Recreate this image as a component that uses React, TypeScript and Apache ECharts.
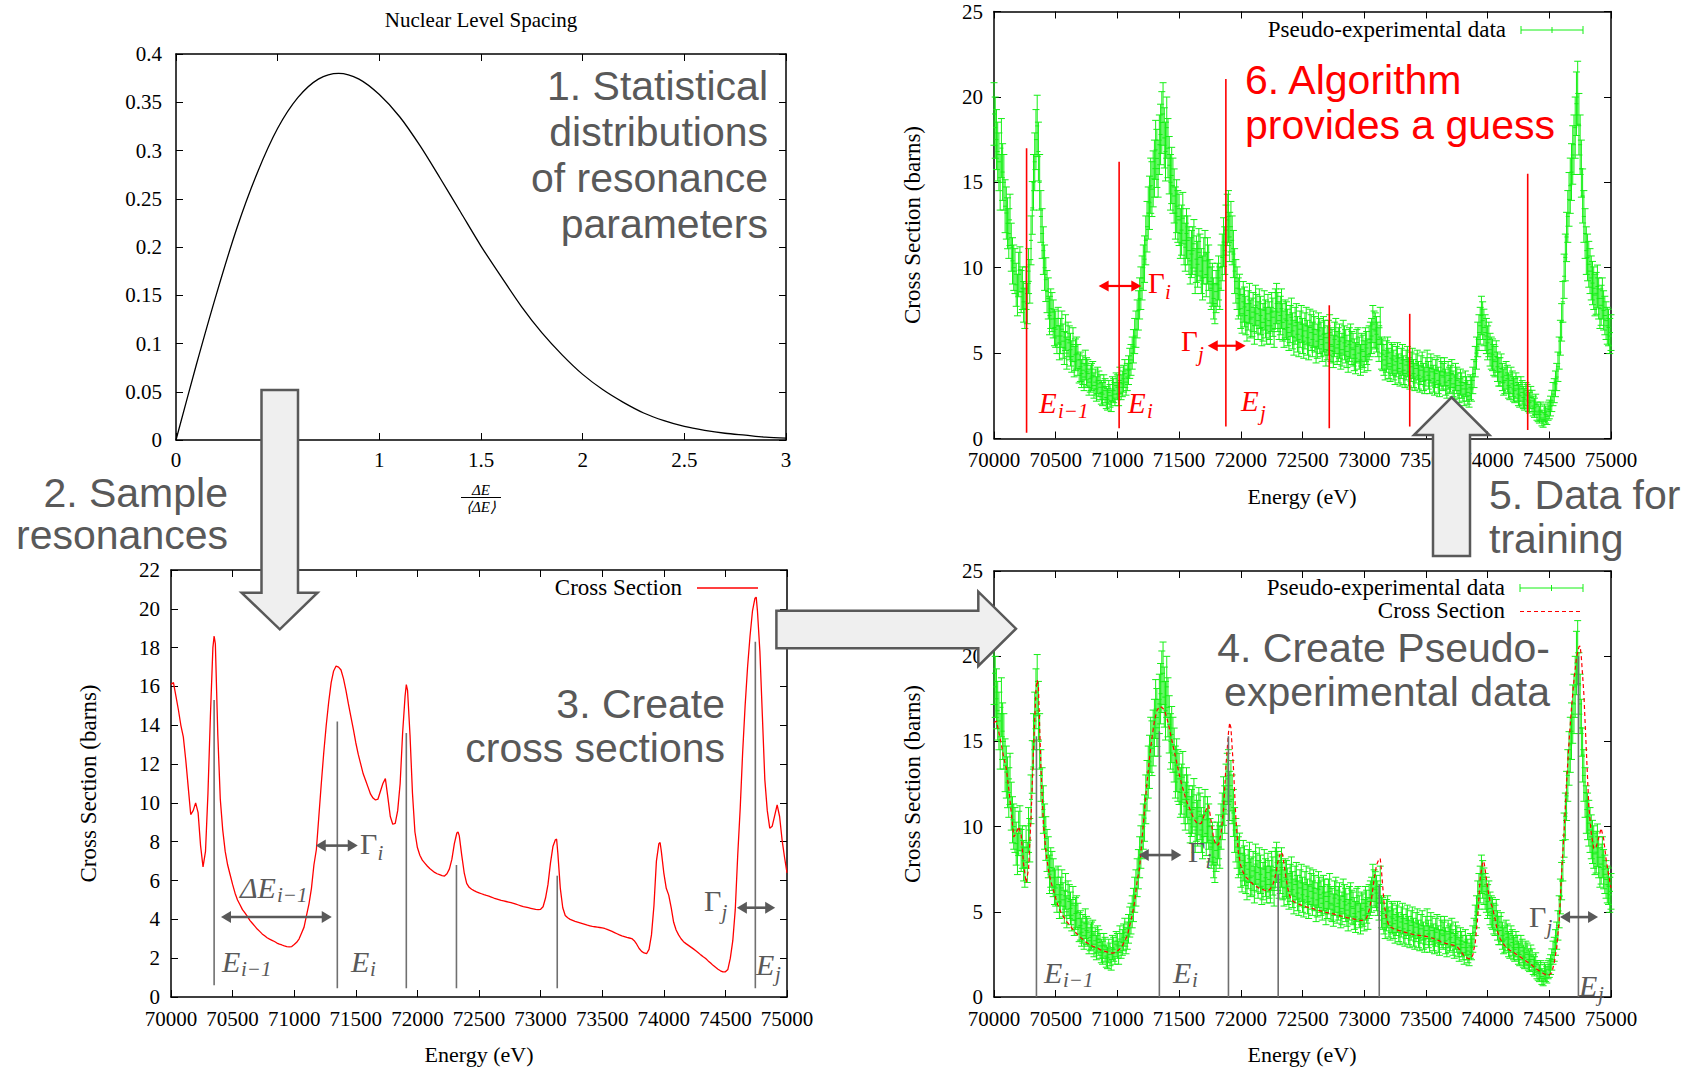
import React, { useEffect, useRef } from "react";
import * as echarts from "echarts";

// ---------------- DATA ----------------
// Panel 1: Nuclear level spacing distribution
const WIGNER_X = [0, 0.1, 0.2, 0.3, 0.4, 0.5, 0.6, 0.7, 0.8, 0.9, 1.0, 1.1, 1.2, 1.3, 1.4, 1.5, 1.6, 1.7, 1.8, 1.9, 2.0, 2.1, 2.2, 2.3, 2.4, 2.5, 2.6, 2.7, 2.8, 2.9, 3.0];
const WIGNER_Y = [0, 0.078, 0.152, 0.22, 0.277, 0.323, 0.355, 0.374, 0.38, 0.374, 0.358, 0.335, 0.305, 0.271, 0.236, 0.201, 0.169, 0.138, 0.111, 0.088, 0.068, 0.052, 0.039, 0.028, 0.02, 0.014, 0.01, 0.007, 0.005, 0.003, 0.002];

// Axis ranges [min, max, interval]
const ENERGY_RANGE = [70000, 75000, 500];
const SPACING_RANGE = [0, 3, 0.5];
const DENSITY_RANGE = [0, 0.4, 0.05];
const XS_RANGE_SMALL = [0, 22, 2];
const XS_RANGE_LARGE = [0, 25, 5];

// Cross section curve [E (eV), sigma (barns)]
const CROSS_SECTION: [number, number][] = [
  [70000, 16.1], [70020, 16.2], [70040, 15.5], [70060, 14.8], [70080, 14.0], [70100, 13.4], [70120, 12.2], [70140, 10.8],
  [70160, 9.4], [70180, 9.6], [70200, 10.0], [70220, 9.5], [70240, 7.8], [70260, 6.7], [70280, 7.5], [70300, 10.5],
  [70320, 14.5], [70340, 18.0], [70350, 18.6], [70360, 18.2], [70380, 13.5], [70400, 10.2], [70420, 8.6], [70440, 7.5],
  [70460, 6.8], [70480, 6.3], [70500, 5.8], [70520, 5.35], [70540, 5.0], [70560, 4.75], [70580, 4.5], [70600, 4.33],
  [70620, 4.15], [70640, 3.95], [70660, 3.8], [70680, 3.65], [70700, 3.5], [70720, 3.38], [70740, 3.25], [70760, 3.15],
  [70780, 3.05], [70800, 2.98], [70820, 2.92], [70840, 2.86], [70860, 2.78], [70880, 2.72], [70900, 2.68], [70920, 2.63],
  [70940, 2.6], [70960, 2.58], [70980, 2.6], [71000, 2.7], [71020, 2.82], [71040, 3.0], [71060, 3.3], [71080, 3.6],
  [71100, 4.2], [71120, 4.8], [71140, 5.6], [71160, 6.8], [71180, 7.6], [71200, 9.3], [71220, 11.0], [71240, 12.6],
  [71260, 14.0], [71280, 15.2], [71300, 16.2], [71320, 16.8], [71340, 17.05], [71360, 17.0], [71380, 16.85], [71400, 16.4],
  [71420, 15.8], [71440, 15.1], [71460, 14.45], [71480, 13.8], [71500, 13.1], [71520, 12.5], [71540, 12.0], [71560, 11.5],
  [71580, 11.15], [71600, 10.8], [71620, 10.45], [71640, 10.25], [71660, 10.15], [71680, 10.2], [71700, 10.6], [71720, 11.0],
  [71740, 11.25], [71760, 10.3], [71780, 9.3], [71800, 8.9], [71820, 8.95], [71840, 9.6], [71860, 11.0], [71880, 13.6],
  [71900, 15.5], [71910, 16.1], [71920, 15.8], [71940, 13.5], [71960, 10.5], [71980, 8.5], [72000, 7.7], [72020, 7.3],
  [72040, 7.05], [72060, 6.9], [72080, 6.75], [72100, 6.62], [72120, 6.52], [72140, 6.42], [72160, 6.35], [72180, 6.3],
  [72200, 6.25], [72220, 6.23], [72240, 6.35], [72260, 6.6], [72280, 7.1], [72300, 7.9], [72320, 8.45], [72330, 8.5],
  [72340, 8.3], [72360, 7.3], [72380, 6.4], [72400, 5.85], [72420, 5.65], [72440, 5.55], [72460, 5.48], [72480, 5.42],
  [72500, 5.37], [72520, 5.32], [72540, 5.27], [72560, 5.23], [72580, 5.2], [72600, 5.15], [72620, 5.1], [72640, 5.06],
  [72660, 5.02], [72680, 4.98], [72700, 4.95], [72720, 4.92], [72740, 4.89], [72760, 4.86], [72780, 4.82], [72800, 4.78],
  [72820, 4.74], [72840, 4.7], [72860, 4.66], [72880, 4.63], [72900, 4.6], [72920, 4.57], [72940, 4.54], [72960, 4.51],
  [72980, 4.5], [73000, 4.52], [73020, 4.65], [73040, 5.1], [73060, 5.8], [73080, 6.9], [73100, 7.75], [73120, 8.1],
  [73130, 8.13], [73140, 7.4], [73160, 5.6], [73180, 4.6], [73200, 4.2], [73220, 4.08], [73240, 4.0], [73260, 3.95],
  [73280, 3.9], [73300, 3.86], [73320, 3.82], [73340, 3.78], [73360, 3.74], [73380, 3.7], [73400, 3.67], [73420, 3.64],
  [73440, 3.62], [73460, 3.6], [73480, 3.58], [73500, 3.56], [73520, 3.53], [73540, 3.48], [73560, 3.43], [73580, 3.38],
  [73600, 3.32], [73620, 3.26], [73640, 3.2], [73660, 3.15], [73680, 3.11], [73700, 3.07], [73720, 3.04], [73740, 3.01],
  [73760, 2.9], [73780, 2.72], [73800, 2.5], [73820, 2.35], [73840, 2.27], [73860, 2.23], [73880, 2.45], [73900, 3.2],
  [73920, 4.7], [73940, 7.0], [73960, 7.9], [73970, 7.96], [73980, 7.5], [74000, 6.4], [74020, 5.6], [74040, 5.25],
  [74060, 4.6], [74080, 3.85], [74100, 3.45], [74120, 3.2], [74140, 3.0], [74160, 2.85], [74180, 2.75], [74200, 2.66],
  [74220, 2.57], [74240, 2.48], [74260, 2.38], [74280, 2.28], [74300, 2.17], [74320, 2.07], [74340, 1.98], [74360, 1.86],
  [74380, 1.75], [74400, 1.63], [74420, 1.53], [74440, 1.43], [74460, 1.35], [74480, 1.29], [74500, 1.3], [74520, 1.42],
  [74540, 2.0], [74560, 2.9], [74580, 4.5], [74600, 7.3], [74620, 9.7], [74640, 12.6], [74660, 15.0], [74680, 17.0],
  [74700, 18.6], [74720, 19.9], [74740, 20.55], [74750, 20.6], [74760, 19.9], [74780, 17.8], [74800, 14.5], [74820, 11.2],
  [74840, 9.6], [74860, 8.7], [74880, 8.8], [74900, 9.35], [74920, 9.9], [74940, 9.3], [74960, 8.1], [74980, 7.2],
  [75000, 6.4],
];

// Pseudo-experimental data [E (eV), sigma (barns)] - even bins
const PSEUDO_DATA_A: [number, number][] = [
  [70000, 19.0], [70020, 17.5], [70040, 16.2], [70060, 17.0], [70080, 15.0], [70100, 13.2], [70120, 12.0], [70140, 11.2],
  [70160, 10.0], [70180, 9.0], [70200, 9.6], [70220, 8.6], [70240, 8.0], [70260, 8.8], [70280, 9.8], [70300, 11.6],
  [70320, 15.0], [70340, 17.5], [70360, 16.8], [70380, 13.0], [70400, 11.0], [70420, 9.3], [70440, 8.2], [70460, 7.6],
  [70480, 7.0], [70500, 6.4], [70520, 6.6], [70540, 6.0], [70560, 5.7], [70580, 6.2], [70600, 5.8], [70620, 5.2],
  [70640, 5.5], [70660, 4.9], [70680, 4.6], [70700, 4.2], [70720, 4.0], [70740, 4.3], [70760, 3.8], [70780, 3.5],
  [70800, 3.7], [70820, 3.3], [70840, 3.4], [70860, 3.0], [70880, 2.6], [70900, 2.8], [70920, 2.3], [70940, 2.5],
  [70960, 2.9], [70980, 2.6], [71000, 3.0], [71020, 3.4], [71040, 3.2], [71060, 3.8], [71080, 3.6], [71100, 4.4],
  [71120, 5.0], [71140, 6.0], [71160, 7.0], [71180, 8.2], [71200, 9.4], [71220, 10.5], [71240, 12.4], [71260, 13.8],
  [71280, 14.6], [71300, 15.8], [71320, 16.4], [71340, 17.2], [71360, 18.5], [71380, 17.6], [71400, 18.2], [71420, 16.0],
  [71440, 15.4], [71460, 14.2], [71480, 13.6], [71500, 12.8], [71520, 12.2], [71540, 11.6], [71560, 12.0], [71580, 11.0],
  [71600, 10.8], [71620, 11.4], [71640, 10.5], [71660, 10.9], [71680, 9.8], [71700, 10.4], [71720, 9.6], [71740, 10.0],
  [71760, 8.8], [71780, 8.2], [71800, 8.6], [71820, 9.4], [71840, 10.0], [71860, 11.5], [71880, 12.2], [71900, 13.0],
  [71920, 12.4], [71940, 10.8], [71960, 9.2], [71980, 8.2], [72000, 7.6], [72020, 8.0], [72040, 7.2], [72060, 7.5],
  [72080, 7.0], [72100, 7.4], [72120, 7.8], [72140, 6.9], [72160, 7.2], [72180, 6.8], [72200, 7.0], [72220, 7.3],
  [72240, 6.6], [72260, 7.1], [72280, 7.6], [72300, 7.4], [72320, 7.2], [72340, 6.8], [72360, 7.0], [72380, 6.5],
  [72400, 6.7], [72420, 6.3], [72440, 6.6], [72460, 6.1], [72480, 6.4], [72500, 6.0], [72520, 6.3], [72540, 5.9],
  [72560, 6.5], [72580, 5.8], [72600, 6.1], [72620, 5.7], [72640, 6.0], [72660, 5.5], [72680, 5.9], [72700, 5.6],
  [72720, 6.2], [72740, 5.4], [72760, 5.8], [72780, 5.3], [72800, 5.7], [72820, 5.2], [72840, 5.6], [72860, 5.1],
  [72880, 5.5], [72900, 5.3], [72920, 4.9], [72940, 5.4], [72960, 5.0], [72980, 5.2], [73000, 4.8], [73020, 5.3],
  [73040, 5.6], [73060, 6.0], [73080, 6.4], [73100, 6.1], [73120, 5.5], [73140, 5.0], [73160, 4.6], [73180, 4.8],
  [73200, 4.4], [73220, 4.7], [73240, 4.3], [73260, 4.5], [73280, 4.1], [73300, 4.4], [73320, 4.0], [73340, 4.3],
  [73360, 3.9], [73380, 4.2], [73400, 3.8], [73420, 4.1], [73440, 3.7], [73460, 4.0], [73480, 3.6], [73500, 3.9],
  [73520, 3.7], [73540, 4.1], [73560, 3.5], [73580, 3.8], [73600, 3.4], [73620, 3.9], [73640, 3.6], [73660, 3.3],
  [73680, 3.7], [73700, 3.5], [73720, 3.2], [73740, 3.6], [73760, 3.1], [73780, 3.3], [73800, 2.9], [73820, 3.2],
  [73840, 2.7], [73860, 3.0], [73880, 3.4], [73900, 4.5], [73920, 5.8], [73940, 6.6], [73960, 6.9], [73980, 6.2],
  [74000, 5.6], [74020, 5.2], [74040, 4.9], [74060, 4.5], [74080, 4.2], [74100, 3.9], [74120, 3.6], [74140, 3.4],
  [74160, 3.5], [74180, 3.0], [74200, 3.2], [74220, 2.8], [74240, 2.9], [74260, 2.5], [74280, 2.7], [74300, 2.3],
  [74320, 2.5], [74340, 2.1], [74360, 2.2], [74380, 1.8], [74400, 1.6], [74420, 1.4], [74440, 1.2], [74460, 1.5],
  [74480, 1.3], [74500, 1.7], [74520, 2.2], [74540, 2.8], [74560, 3.6], [74580, 5.0], [74600, 6.8], [74620, 9.5],
  [74640, 11.8], [74660, 14.0], [74680, 15.6], [74700, 17.2], [74720, 19.6], [74740, 18.4], [74760, 15.8], [74780, 13.0],
  [74800, 11.0], [74820, 10.2], [74840, 9.4], [74860, 8.8], [74880, 8.5], [74900, 8.2], [74920, 7.8], [74940, 7.5],
  [74960, 6.9], [74980, 6.5], [75000, 6.2],
];
// Pseudo-experimental data - odd bins
const PSEUDO_DATA_B: [number, number][] = [
  [70010, 18.2], [70030, 16.8], [70050, 15.0], [70070, 15.6], [70090, 13.6], [70110, 12.6], [70130, 12.8], [70150, 10.4],
  [70170, 9.8], [70190, 8.4], [70210, 9.9], [70230, 8.8], [70250, 7.6], [70270, 7.9], [70290, 9.2], [70310, 13.5],
  [70330, 16.2], [70350, 18.3], [70370, 15.0], [70390, 12.0], [70410, 10.0], [70430, 8.6], [70450, 7.2], [70470, 7.4],
  [70490, 6.5], [70510, 6.0], [70530, 5.6], [70550, 6.4], [70570, 5.3], [70590, 5.0], [70610, 5.6], [70630, 4.8],
  [70650, 4.5], [70670, 5.0], [70690, 4.1], [70710, 3.8], [70730, 3.6], [70750, 3.9], [70770, 3.3], [70790, 3.6],
  [70810, 3.1], [70830, 2.9], [70850, 3.2], [70870, 2.7], [70890, 3.0], [70910, 2.4], [70930, 2.7], [70950, 2.2],
  [70970, 2.8], [70990, 3.1], [71010, 2.6], [71030, 3.0], [71050, 3.5], [71070, 3.3], [71090, 4.0], [71110, 4.6],
  [71130, 5.4], [71150, 6.4], [71170, 7.5], [71190, 8.8], [71210, 10.0], [71230, 11.6], [71250, 13.2], [71270, 14.8],
  [71290, 15.2], [71310, 16.9], [71330, 15.8], [71350, 17.8], [71370, 19.0], [71390, 16.8], [71410, 17.0], [71430, 15.0],
  [71450, 14.8], [71470, 13.2], [71490, 13.0], [71510, 12.0], [71530, 12.9], [71550, 11.2], [71570, 11.6], [71590, 10.4],
  [71610, 11.0], [71630, 9.8], [71650, 10.2], [71670, 10.6], [71690, 9.4], [71710, 10.8], [71730, 10.4], [71750, 9.2],
  [71770, 9.0], [71790, 7.9], [71810, 9.0], [71830, 8.8], [71850, 10.6], [71870, 11.0], [71890, 12.8], [71910, 11.8],
  [71930, 11.6], [71950, 9.8], [71970, 8.8], [71990, 8.4], [72010, 7.3], [72030, 7.7], [72050, 6.8], [72070, 7.9],
  [72090, 7.1], [72110, 6.6], [72130, 7.3], [72150, 7.6], [72170, 6.5], [72190, 7.5], [72210, 6.6], [72230, 6.9],
  [72250, 7.4], [72270, 6.4], [72290, 7.9], [72310, 6.9], [72330, 7.6], [72350, 6.4], [72370, 6.9], [72390, 6.2],
  [72410, 7.1], [72430, 5.9], [72450, 6.8], [72470, 5.8], [72490, 6.7], [72510, 5.7], [72530, 6.6], [72550, 5.6],
  [72570, 6.2], [72590, 6.4], [72610, 5.4], [72630, 6.3], [72650, 5.8], [72670, 6.1], [72690, 5.2], [72710, 5.9],
  [72730, 5.5], [72750, 5.1], [72770, 6.0], [72790, 5.5], [72810, 5.0], [72830, 5.9], [72850, 5.4], [72870, 4.8],
  [72890, 5.7], [72910, 5.2], [72930, 4.7], [72950, 5.5], [72970, 4.6], [72990, 5.1], [73010, 5.5], [73030, 4.9],
  [73050, 5.8], [73070, 6.7], [73090, 6.3], [73110, 5.8], [73130, 6.6], [73150, 4.9], [73170, 4.3], [73190, 5.0],
  [73210, 4.2], [73230, 4.6], [73250, 4.0], [73270, 4.7], [73290, 3.9], [73310, 4.6], [73330, 3.8], [73350, 4.5],
  [73370, 3.7], [73390, 4.4], [73410, 3.6], [73430, 4.3], [73450, 3.5], [73470, 4.2], [73490, 3.4], [73510, 4.3],
  [73530, 3.4], [73550, 3.9], [73570, 3.3], [73590, 4.0], [73610, 3.2], [73630, 3.7], [73650, 3.9], [73670, 3.1],
  [73690, 3.4], [73710, 3.8], [73730, 3.0], [73750, 3.4], [73770, 2.8], [73790, 3.1], [73810, 2.6], [73830, 2.9],
  [73850, 2.5], [73870, 2.9], [73890, 3.8], [73910, 5.0], [73930, 6.2], [73950, 7.2], [73970, 6.5], [73990, 6.0],
  [74010, 5.8], [74030, 5.0], [74050, 4.6], [74070, 4.8], [74090, 3.9], [74110, 4.1], [74130, 3.3], [74150, 3.7],
  [74170, 3.1], [74190, 3.4], [74210, 2.9], [74230, 3.1], [74250, 2.6], [74270, 2.9], [74290, 2.4], [74310, 2.6],
  [74330, 2.2], [74350, 2.4], [74370, 1.9], [74390, 2.0], [74410, 1.5], [74430, 1.6], [74450, 1.1], [74470, 1.4],
  [74490, 1.6], [74510, 1.9], [74530, 2.6], [74550, 3.2], [74570, 4.2], [74590, 5.9], [74610, 8.0], [74630, 10.6],
  [74650, 13.0], [74670, 14.8], [74690, 16.6], [74710, 18.2], [74730, 20.2], [74750, 17.2], [74770, 14.2], [74790, 12.0],
  [74810, 10.6], [74830, 9.8], [74850, 9.1], [74870, 8.4], [74890, 8.9], [74910, 7.6], [74930, 8.2], [74950, 7.2],
  [74970, 6.6], [74990, 6.0],
];
const ERR_K = 0.42; // error bar half-width ~ ERR_K * sqrt(sigma)

// Resonance markers [E, bottom, top]
const RES_PANEL3: [number, number, number][] = [
  [70350, 0.6, 15.3], [71350, 0.45, 14.2], [71910, 0.45, 13.6], [72317, 0.45, 6.8], [73135, 0.45, 6.25], [74743, 0.45, 18.3],
];
const RES_PANEL4: [number, number, number][] = [
  [70344, 0, 15.3], [71340, 0, 15.6], [71900, 0, 15.3], [72303, 0, 7.2], [73122, 0, 6.6], [74736, 0, 20.0],
];
const RES_GUESS: [number, number, number][] = [
  [70264, 0.33, 17.0], [71014, 0.6, 16.2], [71879, 0.7, 21.05], [72717, 0.6, 7.8], [73369, 0.7, 7.3], [74325, 0.5, 15.5],
];

// Double arrows [E1, E2, sigma level]
const ARROWS_PANEL3: [number, number, number][] = [[70406, 71305, 4.12], [71175, 71516, 7.8], [74593, 74904, 4.6]];
const ARROWS_PANEL4: [number, number, number][] = [[71173, 71519, 8.33], [74587, 74895, 4.69]];
const ARROWS_GUESS: [number, number, number][] = [[70848, 71194, 8.93], [71732, 72039, 5.43]];

// ---------------- STYLE ----------------
const SERIF = "Liberation Serif";
const SANS = "Liberation Sans";
const GRAY = "#595959";
const LINE_GRAY = "#707070";
const RED = "#ff0000";
const GREEN = "#14f014";
const TICK_FS = 21;

function mkAxes(grid: number, xr: number[], yr: number[], fx: any, fy: any, xMargin = 11, yMargin = 11) {
  const base = {
    type: "value",
    gridIndex: grid,
    splitLine: { show: false },
    axisLine: { show: true, onZero: false, lineStyle: { color: "#000", width: 1.5 } },
    axisTick: { show: true, inside: true, length: 7, lineStyle: { color: "#000", width: 1 } },
  };
  const lab = { fontFamily: SERIF, fontSize: TICK_FS, color: "#000", showMinLabel: true, showMaxLabel: true };
  const xAxes = [
    { ...base, position: "bottom", min: xr[0], max: xr[1], interval: xr[2], axisLabel: { ...lab, margin: xMargin, formatter: fx } },
    { ...base, position: "top", min: xr[0], max: xr[1], interval: xr[2], axisLabel: { show: false } },
  ];
  const yAxes = [
    { ...base, position: "left", min: yr[0], max: yr[1], interval: yr[2], axisLabel: { ...lab, margin: yMargin, formatter: fy } },
    { ...base, position: "right", min: yr[0], max: yr[1], interval: yr[2], axisLabel: { show: false } },
  ];
  return { xAxes, yAxes };
}

const fmtNum = (v: number) => String(Math.round(v * 100) / 100);

const renderErr = (_p: any, api: any) => {
  const x = api.value(0), y = api.value(1), e = api.value(2);
  const c = api.coord([x, y]);
  const t = api.coord([x, y + e]);
  const b = api.coord([x, y - e]);
  const st = { stroke: GREEN, lineWidth: 1 };
  const cw = 3.5;
  return {
    type: "group",
    children: [
      { type: "line", shape: { x1: c[0], y1: t[1], x2: c[0], y2: b[1] }, style: st },
      { type: "line", shape: { x1: c[0] - cw, y1: t[1], x2: c[0] + cw, y2: t[1] }, style: st },
      { type: "line", shape: { x1: c[0] - cw, y1: b[1], x2: c[0] + cw, y2: b[1] }, style: st },
      { type: "line", shape: { x1: c[0] - 2, y1: c[1], x2: c[0] + 2, y2: c[1] }, style: st },
    ],
  };
};

const renderVLine = (color: string, width: number) => (_p: any, api: any) => {
  const p1 = api.coord([api.value(0), api.value(1)]);
  const p2 = api.coord([api.value(0), api.value(2)]);
  return { type: "line", shape: { x1: p1[0], y1: p1[1], x2: p2[0], y2: p2[1] }, style: { stroke: color, lineWidth: width } };
};

const renderArrow = (color: string, width: number, L: number, W: number) => (_p: any, api: any) => {
  const a = api.coord([api.value(0), api.value(2)]);
  const b = api.coord([api.value(1), api.value(2)]);
  const y = a[1];
  return {
    type: "group",
    children: [
      { type: "line", shape: { x1: a[0] + L - 2, y1: y, x2: b[0] - L + 2, y2: y }, style: { stroke: color, lineWidth: width } },
      { type: "polygon", shape: { points: [[a[0], y], [a[0] + L, y - W], [a[0] + L, y + W]] }, style: { fill: color } },
      { type: "polygon", shape: { points: [[b[0], y], [b[0] - L, y - W], [b[0] - L, y + W]] }, style: { fill: color } },
    ],
  };
};

function txt(x: number, y: number, text: string, o: any = {}) {
  const align = o.align || "left";
  const va = o.va || "middle";
  const style: any = {
    text,
    fill: o.color || "#000",
    fontSize: o.size || 22,
    fontFamily: o.family || SERIF,
    fontStyle: o.italic ? "italic" : "normal",
    align,
    textAlign: align,
    verticalAlign: va,
    textVerticalAlign: va,
  };
  if (o.lineHeight) style.lineHeight = o.lineHeight;
  return { type: "text", x, y, rotation: o.rotation || 0, z: 100, style };
}

// main symbol + subscript; subscript placed right after the main glyph box
function mathLabel(x: number, y: number, main: string, mainItalic: boolean, mainW: number, dy: number, sub: string, color: string, size = 30, subSize = 21) {
  return [
    txt(x, y, main, { color, size, italic: mainItalic, family: SERIF }),
    txt(x + mainW, y + dy, sub, { color, size: subSize, italic: true, family: SERIF }),
  ];
}

function bigLines(lines: string[], x: number, y0: number, align: string, color: string, step = 45, size = 41) {
  return lines.map((l, i) => txt(x, y0 + i * step, l, { align, color, size, family: SANS, lineHeight: 38 }));
}

function hline(x1: number, y1: number, x2: number, y2: number, color: string, width = 1, dash?: number[]) {
  return { type: "line", z: 100, shape: { x1, y1, x2, y2 }, style: { stroke: color, lineWidth: width, lineDash: dash } };
}

function blockArrow(points: number[][]) {
  return { type: "polygon", z: 120, shape: { points }, style: { fill: "#efefef", stroke: GRAY, lineWidth: 2.5 } };
}

function greenLegend(x1: number, x2: number, y: number) {
  return [
    hline(x1, y, x2, y, GREEN, 1),
    hline(x1, y - 4, x1, y + 4, GREEN, 1),
    hline(x2, y - 4, x2, y + 4, GREEN, 1),
    hline((x1 + x2) / 2, y - 3, (x1 + x2) / 2, y + 3, GREEN, 1),
  ];
}

export default function App() {
  const ref = useRef<HTMLDivElement>(null);
  useEffect(() => {
    if (!ref.current) return;
    const chart = echarts.init(ref.current, undefined, { renderer: "svg" });

    const grids = [
      { left: 176, top: 54, width: 610, height: 386 },
      { left: 994, top: 11.5, width: 617, height: 427 },
      { left: 171, top: 570, width: 616, height: 427 },
      { left: 994, top: 571, width: 617, height: 426 },
    ].map((g) => ({ ...g, show: false }));

    const fE = (v: number) => String(v);
    const a0 = mkAxes(0, SPACING_RANGE, DENSITY_RANGE, fmtNum, fmtNum, 9, 14);
    const a1 = mkAxes(1, ENERGY_RANGE, XS_RANGE_LARGE, fE, fmtNum);
    const a2 = mkAxes(2, ENERGY_RANGE, XS_RANGE_SMALL, fE, fmtNum);
    const a3 = mkAxes(3, ENERGY_RANGE, XS_RANGE_LARGE, fE, fmtNum);
    const xAxis = [...a0.xAxes, ...a1.xAxes, ...a2.xAxes, ...a3.xAxes];
    const yAxis = [...a0.yAxes, ...a1.yAxes, ...a2.yAxes, ...a3.yAxes];

    const errData = [...PSEUDO_DATA_A, ...PSEUDO_DATA_B]
      .sort((p, q) => p[0] - q[0])
      .map(([e, s]) => [e, s, ERR_K * Math.sqrt(s)]);
    const wigner = WIGNER_X.map((x, i) => [x, WIGNER_Y[i]]);

    const series: any[] = [
      // Panel 1
      { type: "line", xAxisIndex: 0, yAxisIndex: 0, data: wigner, showSymbol: false, smooth: 0.3, lineStyle: { color: "#000", width: 1.3 } },
      // Panel 2 (guess)
      { type: "custom", xAxisIndex: 2, yAxisIndex: 2, data: errData, renderItem: renderErr, encode: { x: 0, y: 1 }, z: 2 },
      { type: "custom", xAxisIndex: 2, yAxisIndex: 2, data: RES_GUESS, renderItem: renderVLine(RED, 1.6), encode: { x: 0, y: [1, 2] }, z: 3 },
      { type: "custom", xAxisIndex: 2, yAxisIndex: 2, data: ARROWS_GUESS, renderItem: renderArrow(RED, 2.2, 10, 5.5), encode: { x: [0, 1], y: 2 }, z: 4 },
      // Panel 3 (cross section)
      { type: "line", xAxisIndex: 4, yAxisIndex: 4, data: CROSS_SECTION, showSymbol: false, lineStyle: { color: RED, width: 1.3 }, z: 2 },
      { type: "custom", xAxisIndex: 4, yAxisIndex: 4, data: RES_PANEL3, renderItem: renderVLine(LINE_GRAY, 1.6), encode: { x: 0, y: [1, 2] }, z: 3 },
      { type: "custom", xAxisIndex: 4, yAxisIndex: 4, data: ARROWS_PANEL3, renderItem: renderArrow(GRAY, 2.6, 10, 6), encode: { x: [0, 1], y: 2 }, z: 4 },
      // Panel 4 (pseudo-experimental)
      { type: "custom", xAxisIndex: 6, yAxisIndex: 6, data: errData, renderItem: renderErr, encode: { x: 0, y: 1 }, z: 2 },
      { type: "line", xAxisIndex: 6, yAxisIndex: 6, data: CROSS_SECTION, showSymbol: false, lineStyle: { color: RED, width: 1.2, type: [4, 3] }, z: 3 },
      { type: "custom", xAxisIndex: 6, yAxisIndex: 6, data: RES_PANEL4, renderItem: renderVLine(LINE_GRAY, 1.6), encode: { x: 0, y: [1, 2] }, z: 4 },
      { type: "custom", xAxisIndex: 6, yAxisIndex: 6, data: ARROWS_PANEL4, renderItem: renderArrow(GRAY, 2.6, 10, 6), encode: { x: [0, 1], y: 2 }, z: 5 },
    ];

    const graphic: any[] = [
      // titles / axis names
      txt(481, 19.5, "Nuclear Level Spacing", { align: "center", size: 21 }),
      txt(481, 490, "ΔE", { align: "center", size: 15, italic: true }),
      hline(461, 497.5, 501, 497.5, "#000", 1),
      txt(481, 507, "⟨ΔE⟩", { align: "center", size: 15, italic: true }),
      txt(88, 783.5, "Cross Section (barns)", { align: "center", size: 23, rotation: Math.PI / 2 }),
      txt(912, 225, "Cross Section (barns)", { align: "center", size: 23, rotation: Math.PI / 2 }),
      txt(912, 784, "Cross Section (barns)", { align: "center", size: 23, rotation: Math.PI / 2 }),
      txt(479, 1054, "Energy (eV)", { align: "center", size: 22 }),
      txt(1302, 496, "Energy (eV)", { align: "center", size: 22 }),
      txt(1302, 1054, "Energy (eV)", { align: "center", size: 22 }),
      // legends
      txt(682, 587, "Cross Section", { align: "right", size: 23 }),
      hline(697, 588, 758, 588, RED, 1.3),
      txt(1506, 29, "Pseudo-experimental data", { align: "right", size: 23 }),
      ...greenLegend(1521, 1583, 30),
      txt(1505, 587, "Pseudo-experimental data", { align: "right", size: 23 }),
      ...greenLegend(1520, 1583, 588),
      txt(1505, 610, "Cross Section", { align: "right", size: 23 }),
      hline(1520, 611.5, 1583, 611.5, RED, 1.2, [4, 3]),
      // math labels panel 3
      ...mathLabel(222, 961, "E", true, 19, 8, "i−1", GRAY),
      ...mathLabel(351, 961, "E", true, 19, 8, "i", GRAY),
      ...mathLabel(240, 887, "ΔE", true, 37, 8, "i−1", GRAY),
      ...mathLabel(360, 843, "Γ", false, 17.5, 10, "i", GRAY),
      ...mathLabel(704, 900, "Γ", false, 17.5, 12, "j", GRAY),
      ...mathLabel(756, 964, "E", true, 19, 10, "j", GRAY),
      // math labels panel 4
      ...mathLabel(1044, 972, "E", true, 19, 8, "i−1", GRAY),
      ...mathLabel(1173, 972, "E", true, 19, 8, "i", GRAY),
      ...mathLabel(1188, 851, "Γ", false, 17.5, 10, "i", GRAY),
      ...mathLabel(1529, 916, "Γ", false, 17.5, 11, "j", GRAY),
      ...mathLabel(1579, 985, "E", true, 19, 9, "j", GRAY),
      // math labels panel 2 (red)
      ...mathLabel(1039, 403, "E", true, 19, 8, "i−1", RED, 29),
      ...mathLabel(1128, 403, "E", true, 19, 8, "i", RED, 29),
      ...mathLabel(1241, 401, "E", true, 19, 12, "j", RED, 29),
      ...mathLabel(1148, 283, "Γ", false, 17, 9, "i", RED, 29),
      ...mathLabel(1181, 341, "Γ", false, 17, 13, "j", RED, 29),
      // big annotation texts
      ...bigLines(["1. Statistical", "distributions", "of resonance", "parameters"], 768, 86, "right", GRAY, 46),
      ...bigLines(["2. Sample", "resonances"], 228, 493, "right", GRAY, 42),
      ...bigLines(["3. Create", "cross sections"], 725, 704, "right", GRAY, 44),
      ...bigLines(["4. Create Pseudo-", "experimental data"], 1550, 648, "right", GRAY, 44),
      ...bigLines(["5. Data for", "training"], 1489, 495, "left", GRAY, 44),
      ...bigLines(["6. Algorithm", "provides a guess"], 1245, 80, "left", RED, 45),
      // block arrows
      blockArrow([[261.5, 390], [298, 390], [298, 592.7], [317.5, 592.7], [279.8, 629.3], [241.6, 592.7], [261.5, 592.7]]),
      blockArrow([[776.4, 610.7], [978.3, 610.7], [978.3, 591.7], [1016, 628.7], [978.3, 666], [978.3, 648.3], [776.4, 648.3]]),
      blockArrow([[1433, 556], [1433, 435], [1414, 435], [1451.6, 397.3], [1489.4, 435], [1470, 435], [1470, 556]]),
    ];

    chart.setOption({
      animation: false,
      backgroundColor: "#fff",
      grid: grids,
      xAxis,
      yAxis,
      series,
      graphic: { elements: graphic },
    });
    return () => chart.dispose();
  }, []);
  return <div ref={ref} style={{ position: "absolute", left: 0, top: 0, width: 1691, height: 1068 }} />;
}
